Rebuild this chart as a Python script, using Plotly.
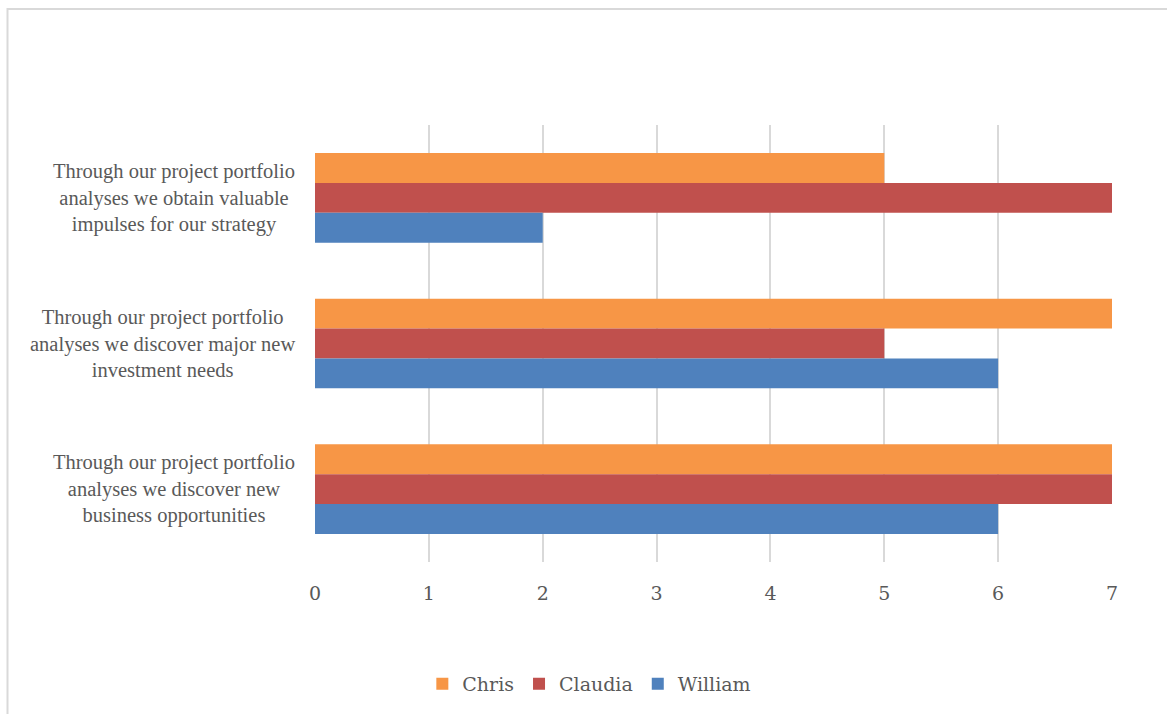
import plotly.graph_objects as go

# Statements (top to bottom) and the three respondents' scores
statements = [
    "Through our project portfolio<br>analyses we obtain valuable<br>impulses for our strategy",
    "Through our project portfolio<br>analyses we discover major new<br>investment needs",
    "Through our project portfolio<br>analyses we discover new<br>business opportunities",
]
chris = [5, 7, 7]
claudia = [7, 5, 7]
william = [2, 6, 6]
x_ticks = [0, 1, 2, 3, 4, 5, 6, 7]

series = [
    ("Chris", chris, "#F79646"),
    ("Claudia", claudia, "#C0504D"),
    ("William", william, "#4F81BD"),
]

W, H = 1167, 714
ML, MR, MT, MB = 315, 55, 125, 152

fig = go.Figure()
for name, vals, color in series:
    fig.add_trace(go.Bar(
        y=statements, x=vals, name=name, orientation="h",
        marker=dict(color=color, line=dict(width=0)),
        hoverinfo="x+name",
    ))

# category labels as centered multi-line text to the left of the axis
for s in statements:
    fig.add_annotation(
        x=0, xref="paper", y=s, yref="y", xanchor="right", xshift=-18,
        text=s, showarrow=False, align="center",
        font=dict(family="Liberation Serif, Times New Roman, serif", size=20.5, color="#595959"),
    )

# thin frame around the chart area
pw, ph = W - ML - MR, H - MT - MB
def px_x(v):
    return (v - ML) / pw
def px_y(v):
    return (H - MB - v) / ph
fig.add_shape(
    type="rect", xref="paper", yref="paper",
    x0=px_x(7.5), x1=px_x(1185), y0=px_y(730), y1=px_y(9),
    line=dict(color="#D9D9D9", width=2), fillcolor="rgba(0,0,0,0)", layer="below",
)

fig.update_layout(
    width=W, height=H,
    margin=dict(l=ML, r=MR, t=MT, b=MB, pad=0),
    paper_bgcolor="white", plot_bgcolor="white",
    barmode="group", bargap=0.384, bargroupgap=0,
    showlegend=True,
    legend=dict(
        orientation="h", xref="container", yref="container",
        x=0.505, xanchor="center", y=0.042, yanchor="middle",
        font=dict(family="DejaVu Serif, Cambria, serif", size=19, color="#595959"),
        itemwidth=30, tracegroupgap=0, itemclick=False,
    ),
    xaxis=dict(
        range=[0, 7], tickvals=x_ticks, ticktext=[str(t) for t in x_ticks],
        showgrid=True, gridcolor="#D9D9D9", gridwidth=2,
        zeroline=False, showline=False, ticks="",
        ticklabelstandoff=18,
        tickfont=dict(family="DejaVu Serif, Cambria, serif", size=19, color="#595959"),
    ),
    yaxis=dict(
        autorange="reversed", showticklabels=False, showgrid=False,
        zeroline=False, showline=False, ticks="",
    ),
)

fig.write_html("out.html")
